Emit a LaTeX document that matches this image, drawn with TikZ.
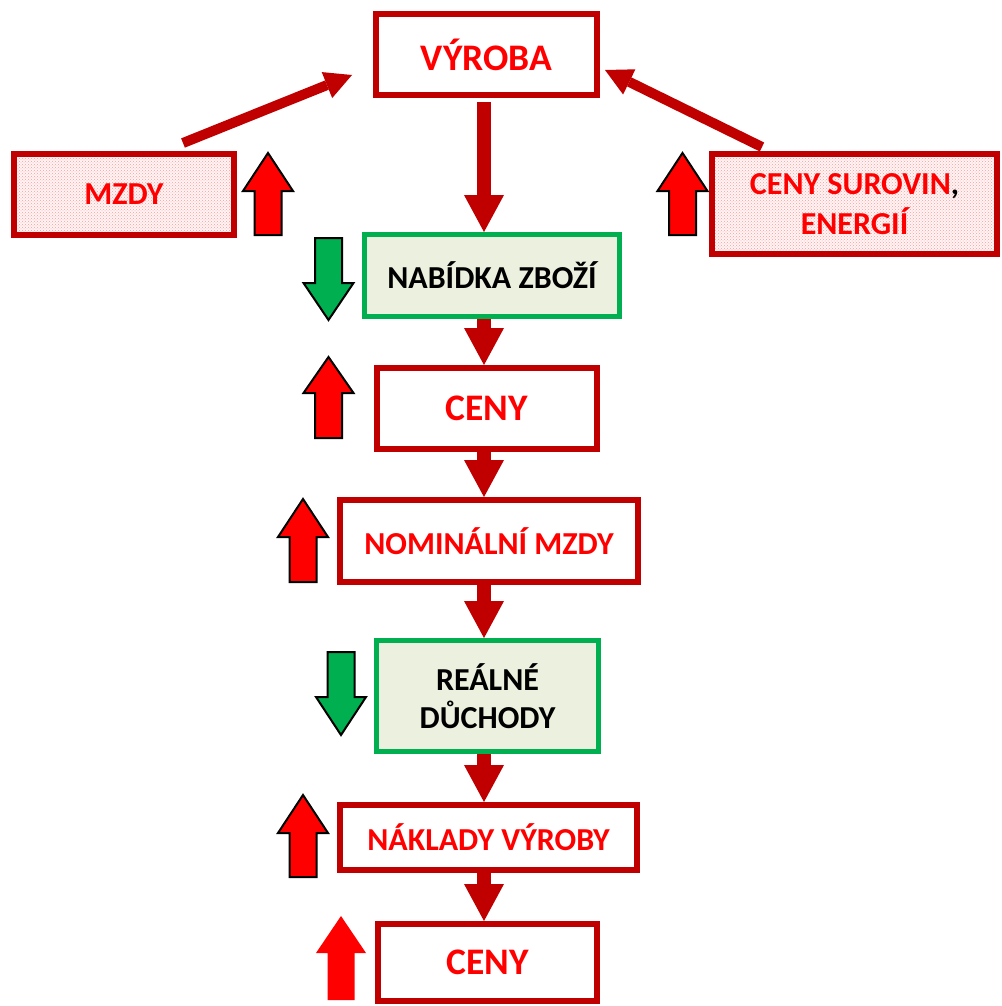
\documentclass[tikz,border=0pt]{standalone}
\usepackage{fontspec}
\setmainfont{Carlito}
\usetikzlibrary{arrows.meta,patterns,calc}
\definecolor{dred}{HTML}{C00000}
\definecolor{bred}{HTML}{FF0000}
\definecolor{bgreen}{HTML}{00B050}
\definecolor{lgreen}{HTML}{EBF1DE}
\newcommand{\fatup}[5]{%
  \filldraw[#5] (#1-13.5,#4) -- (#1-13.5,#3) -- (#1-25,#3) -- (#1,#2) -- (#1+25,#3) -- (#1+13.5,#3) -- (#1+13.5,#4) -- cycle;}
\begin{document}
\begin{tikzpicture}[x=1pt,y=-1pt,
  redbox/.style={draw=dred, line width=6pt, fill=white, text=bred, inner sep=0pt, align=center,
    font=\bfseries\fontsize{32}{40}\selectfont},
  bigtext/.style={font=\bfseries\fontsize{37.5}{40}\selectfont},
  dotbox/.style={redbox, fill=none, preaction={fill=red!4}, pattern=crosshatch dots, pattern color=red!40},
  greenbox/.style={draw=bgreen, line width=5pt, fill=lgreen, text=black, inner sep=0pt, align=center,
    font=\bfseries\fontsize{32}{38}\selectfont},
  conn/.style={dred, line width=14pt, -{Triangle[width=40pt,length=37pt,line width=0pt]}},
  diag/.style={dred, line width=10pt, -{Triangle[width=28pt,length=27pt,line width=0pt]}},
  upred/.style={fill=bred, draw=black, line width=2pt, line join=miter},
  downgreen/.style={fill=bgreen, draw=black, line width=2pt, line join=miter},
  upplain/.style={fill=bred, draw=none}
]
\useasboundingbox (0,0) rectangle (1001,1006);

% boxes
\node[redbox, bigtext, minimum width=221pt, minimum height=81pt] (vyroba) at (486.5,54.5) {VÝROBA};
\node[dotbox, minimum width=220pt, minimum height=81pt] (mzdy) at (124,194.5) {MZDY};
\node[dotbox, minimum width=285pt, minimum height=100pt] (suroviny) at (854.5,204) {CENY SUROVIN{\color{black},}\\ENERGIÍ};
\node[greenbox, minimum width=255pt, minimum height=82pt] (nabidka) at (492,275.5) {NABÍDKA ZBOŽÍ};
\node[redbox, bigtext, minimum width=220pt, minimum height=81pt] (ceny1) at (487,408.5) {CENY};
\node[redbox, minimum width=298pt, minimum height=82pt] (nominalni) at (489,541) {NOMINÁLNÍ MZDY};
\node[greenbox, minimum width=222pt, minimum height=111pt] (realne) at (487.5,696) {REÁLNÉ\\DŮCHODY};
\node[redbox, minimum width=297pt, minimum height=65pt] (naklady) at (488.5,837.5) {NÁKLADY VÝROBY};
\node[redbox, bigtext, minimum width=219pt, minimum height=77pt] (ceny2) at (487.5,962.5) {CENY};

% vertical connectors
\coordinate (ax) at (484,0);
\draw[conn, shorten <=4pt] (vyroba.south -| ax) -- (nabidka.north -| ax);
\draw[conn] (nabidka.south -| ax) -- (ceny1.north -| ax);
\draw[conn] (ceny1.south -| ax) -- (nominalni.north -| ax);
\draw[conn] (nominalni.south -| ax) -- (realne.north -| ax);
\draw[conn] (realne.south -| ax) -- (naklady.north -| ax);
\draw[conn] (naklady.south -| ax) -- (ceny2.north -| ax);

% diagonal connectors
\coordinate (m1) at (183,143);
\coordinate (m2) at (352,75);
\coordinate (s1) at (762,147);
\coordinate (s2) at (605,70);
\draw[diag] (m1) -- (m2);
\draw[diag] (s1) -- (s2);

% fat indicator arrows
\fatup{268}{153}{191}{235}{upred}
\fatup{682.5}{153}{191}{235}{upred}
\fatup{328.5}{320}{283}{238}{downgreen}
\fatup{328.5}{357}{393}{438}{upred}
\fatup{303}{499}{537}{582}{upred}
\fatup{341}{735}{697}{652}{downgreen}
\fatup{303}{795}{833}{877}{upred}
\fatup{341}{916}{953}{1000}{upplain}
\end{tikzpicture}
\end{document}
